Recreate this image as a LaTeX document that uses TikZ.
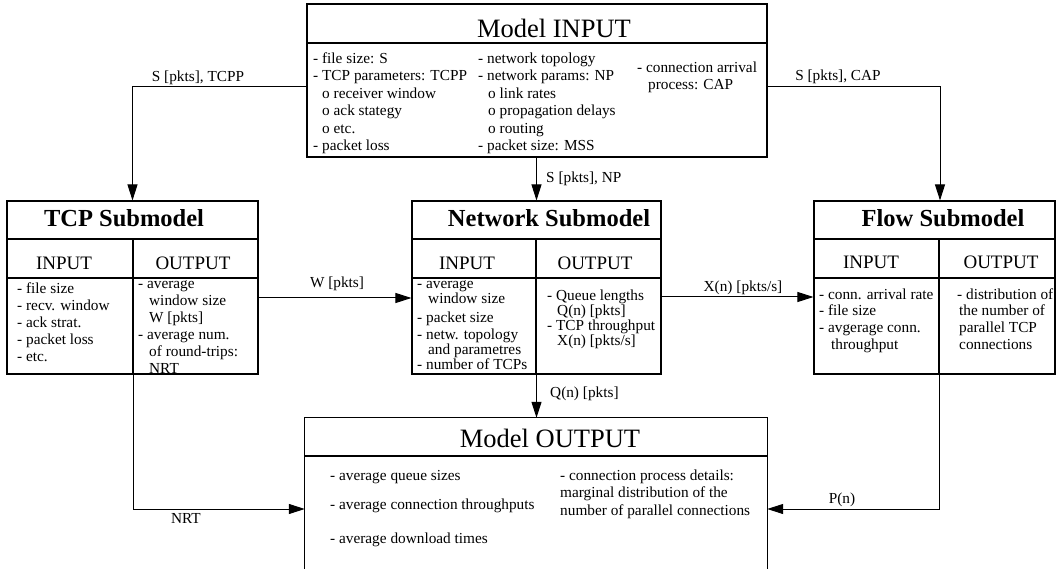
\documentclass[tikz,border=0pt]{standalone}
\usepackage{fontspec}
\setmainfont{Liberation Serif}
\usetikzlibrary{arrows.meta}
\newcommand{\ind}[1]{\hspace*{#1pt}}
\begin{document}
\begin{tikzpicture}[x=1pt,y=-1pt,
  boxline/.style={line width=1.1pt},
  box/.style={draw, boxline, rectangle, inner sep=0pt},
  arr/.style={line width=1pt, -{Triangle[length=16pt,width=10pt]}},
  bigtitle/.style={inner sep=0pt, anchor=base, font=\fontsize{26.5}{30}\selectfont},
  subtitle/.style={inner sep=0pt, anchor=base, font=\fontsize{24.5}{28}\selectfont\bfseries},
  header/.style={inner sep=0pt, anchor=base, font=\fontsize{19}{22}\selectfont},
  lbl/.style={inner sep=0pt, anchor=base, font=\fontsize{15.3}{17.5}\selectfont},
  body/.style={inner sep=0pt, align=left, anchor=north west},
]
\useasboundingbox (0,0) rectangle (1058,569);

% boxes
\node[box, minimum width=460pt, minimum height=153pt] (inbox) at (537,80.5) {};
\node[box, minimum width=251pt, minimum height=173pt] (tcpbox) at (132.5,287.5) {};
\node[box, minimum width=249pt, minimum height=173pt] (netbox) at (536.5,287.5) {};
\node[box, minimum width=241pt, minimum height=173pt] (flowbox) at (934.5,287.5) {};
\node[inner sep=0pt, minimum width=462pt, minimum height=151pt] (outbox) at (536,493.5) {};
\draw[boxline] (outbox.south west) -- (outbox.north west) -- (outbox.north east) -- (outbox.south east);

% dividers
\draw[boxline] (inbox.west |- 0,43) -- (inbox.east |- 0,43);
\draw[boxline] (outbox.west |- 0,456) -- (outbox.east |- 0,456);
\draw[boxline] (tcpbox.west |- 0,239) -- (tcpbox.east |- 0,239);
\draw[boxline] (tcpbox.west |- 0,278) -- (tcpbox.east |- 0,278);
\draw[boxline] (133,239) -- (133,374);
\draw[boxline] (netbox.west |- 0,239) -- (netbox.east |- 0,239);
\draw[boxline] (netbox.west |- 0,278) -- (netbox.east |- 0,278);
\draw[boxline] (536,239) -- (536,374);
\draw[boxline] (flowbox.west |- 0,239) -- (flowbox.east |- 0,239);
\draw[boxline] (flowbox.west |- 0,278) -- (flowbox.east |- 0,278);
\draw[boxline] (939,239) -- (939,374);

% titles
\node[bigtitle] (intitle) at (554,38) {Model INPUT};
\node[bigtitle] (outtitle) at (550,447) {Model OUTPUT};
\node[subtitle] (tcptitle) at (124,227) {TCP Submodel};
\node[subtitle] (nettitle) at (549,227) {Network Submodel};
\node[subtitle] (flowtitle) at (943,227) {Flow Submodel};
\node[header] (tcpinh) at (64,270) {INPUT};
\node[header] (tcpouth) at (193,270) {OUTPUT};
\node[header] (netinh) at (467,270) {INPUT};
\node[header] (netouth) at (595,270) {OUTPUT};
\node[header] (flowinh) at (871,269) {INPUT};
\node[header] (flowouth) at (1001,269) {OUTPUT};

% Model INPUT body
\node[body, font=\fontsize{15.3}{17.5}\selectfont] (in1) at (313,50.75) {\strut- file size: S\\
- TCP parameters: TCPP\\
\ind{9}o receiver window\\
\ind{9}o ack stategy\\
\ind{9}o etc.\\
- packet loss};
\node[body, font=\fontsize{15.3}{17.5}\selectfont] (in2) at (478,50.75) {\strut- network topology\\
- network params: NP\\
\ind{10}o link rates\\
\ind{10}o propagation delays\\
\ind{10}o routing\\
- packet size: MSS};
\node[body, font=\fontsize{15.3}{17}\selectfont] (in3) at (637,60.1) {\strut- connection arrival\\
\ind{11}process: CAP};

% TCP submodel body
\node[body, font=\fontsize{15.3}{17}\selectfont] (tcpin) at (17,281.1) {\strut- file size\\
- recv. window\\
- ack strat.\\
- packet loss\\
- etc.};
\node[body, font=\fontsize{15.3}{17}\selectfont] (tcpout) at (138,276.1) {\strut- average\\
\ind{11}window size\\
\ind{11}W [pkts]\\
- average num.\\
\ind{11}of round-trips:\\
\ind{11}NRT};

% Network submodel body
\node[body, font=\fontsize{15.3}{15}\selectfont] (netin) at (417,277.5) {\strut- average\\[-1pt]
\ind{11}window size\\[4pt]
- packet size\\[2pt]
- netw. topology\\
\ind{11}and parametres\\
- number of TCPs};
\node[body, font=\fontsize{15.3}{13.7}\selectfont] (netout) at (547,289.4) {\strut- Queue lengths\\
\ind{10}Q(n) [pkts]\\
- TCP throughput\\
\ind{10}X(n) [pkts/s]};

% Flow submodel body
\node[body, font=\fontsize{15.3}{16.7}\selectfont] (flowin) at (819,287.3) {\strut- conn. arrival rate\\
- file size\\
- avgerage conn.\\
\ind{12}throughput};
\node[body, font=\fontsize{15.3}{16.7}\selectfont] (flowout) at (957,287.3) {\strut- distribution of\\
\ind{2}the number of\\
\ind{2}parallel TCP\\
\ind{2}connections};

% Model OUTPUT body
\node[body, font=\fontsize{15.3}{17.5}\selectfont] (out1) at (330,467.75) {\strut- average queue sizes\\[11.5pt]
- average connection throughputs\\[16.5pt]
- average download times};
\node[body, font=\fontsize{15.3}{17.5}\selectfont] (out2) at (560,467.75) {\strut- connection process details:\\
marginal distribution of the\\
number of parallel connections};

% connectors
\draw[arr] (inbox.west |- 0,87) -| (tcpbox.north);
\draw[arr] (inbox.east |- 0,87) -| (flowbox.north -| 940,0);
\draw[arr] (netbox.north |- inbox.south) -- (netbox.north);
\draw[arr] (tcpbox.east |- 0,298) -- (netbox.west |- 0,298);
\draw[arr] (netbox.east |- 0,297) -- (flowbox.west |- 0,297);
\draw[arr] (netbox.south) -- (netbox.south |- outbox.north);
\draw[arr] (tcpbox.south -| 133,0) |- (outbox.west |- 0,509);
\draw[arr] (flowbox.south -| 939,0) |- (outbox.east |- 0,509);

% connector labels
\node[lbl] (ltcpp) at (198,82) {S [pkts], TCPP};
\node[lbl] (lcap) at (838,81) {S [pkts], CAP};
\node[lbl, anchor=base west] (lnp) at (546,183) {S [pkts], NP};
\node[lbl] (lw) at (337,288) {W [pkts]};
\node[lbl] (lx) at (743,292) {X(n) [pkts/s]};
\node[lbl, anchor=base west] (lq) at (550,397) {Q(n) [pkts]};
\node[lbl] (lnrt) at (186,523) {NRT};
\node[lbl] (lp) at (842,503) {P(n)};
\end{tikzpicture}
\end{document}
